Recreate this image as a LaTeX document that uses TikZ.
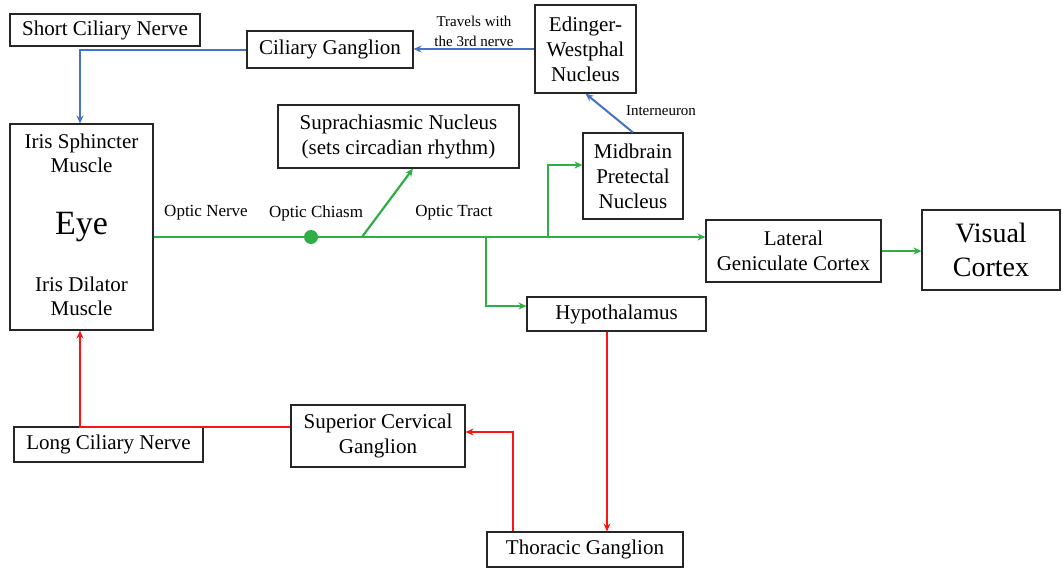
\documentclass[tikz,border=0pt]{standalone}
\usepackage{fontspec}
\setmainfont{Liberation Serif}
\usetikzlibrary{arrows.meta}
\definecolor{nblue}{RGB}{68,114,196}
\definecolor{ngreen}{RGB}{45,175,70}
\definecolor{nred}{RGB}{250,20,20}
\begin{document}
\begin{tikzpicture}[x=1pt,y=-1pt,
  box/.style={draw=black!85, line width=1.1pt, fill=white, inner sep=0pt, align=center, font=\fontsize{21}{25}\selectfont},
  txt/.style={inner sep=0pt, align=center, font=\fontsize{21}{24}\selectfont},
  olbl/.style={inner sep=0pt, font=\fontsize{17}{20}\selectfont},
  slbl/.style={inner sep=0pt, align=center, font=\fontsize{15}{20}\selectfont},
  arr/.style={-{Stealth[length=8pt,width=7pt]}},
  bl/.style={draw=nblue, line width=2pt},
  gr/.style={draw=ngreen, line width=2.2pt},
  rd/.style={draw=nred, line width=2pt}]
\fill[white] (0,0) rectangle (1063,570);
\useasboundingbox (0,0) rectangle (1063,570);
% boxes
\node[box, minimum width=190, minimum height=32] (scn) at (105,30) {Short Ciliary Nerve};
\node[box, minimum width=166, minimum height=37] (cg) at (330,49.5) {Ciliary Ganglion};
\node[box, minimum width=101, minimum height=88] (ew) at (585.5,49) {Edinger-\\Westphal\\Nucleus};
\node[box, minimum width=100, minimum height=86] (mpn) at (633,176) {Midbrain\\Pretectal\\Nucleus};
\node[box, minimum width=241, minimum height=63] (scnuc) at (398.5,136.5) {Suprachiasmic Nucleus\\(sets circadian rhythm)};
\node[box, minimum width=143, minimum height=206] (eye) at (81.5,227) {};
\node[txt] (eyes) at (81.5,153) {Iris Sphincter\\Muscle};
\node[txt, font=\fontsize{34}{38}\selectfont] (eyel) at (81.5,227) {Eye};
\node[txt] (eyed) at (81.5,296) {Iris Dilator\\Muscle};
\node[box, minimum width=175, minimum height=62] (lgc) at (793.5,251) {Lateral\\Geniculate Cortex};
\node[box, minimum width=138, minimum height=80, font=\fontsize{28}{34}\selectfont] (vc) at (991,250) {Visual\\Cortex};
\node[box, minimum width=179, minimum height=34] (hyp) at (616.5,314) {Hypothalamus};
\node[box, minimum width=196, minimum height=35] (tg) at (585,549.5) {Thoracic Ganglion};
\node[box, minimum width=174, minimum height=62] (scg) at (378,436) {Superior Cervical\\Ganglion};
\node[box, minimum width=189, minimum height=35] (lcn) at (108.5,444.5) {Long Ciliary Nerve};
% labels
\node[olbl] (onl) at (206,213) {Optic Nerve};
\node[olbl] (ocl) at (316,213) {Optic Chiasm};
\node[olbl] (otl) at (454,213) {Optic Tract};
\node[slbl] (tw) at (474,31) {Travels with\\the 3rd nerve};
\node[slbl] (inl) at (661,111) {Interneuron};
% green optic pathway
\node[circle, fill=ngreen, minimum size=14pt, inner sep=0pt] (dot) at (311,237) {};
\coordinate (b1) at (362,237);
\coordinate (b2) at (486,237);
\coordinate (b3) at (548,237);
\draw[gr] (eye.east |- dot) -- (dot);
\draw[gr,arr] (dot) -- (lgc.west |- dot);
\draw[gr,arr] (b1) -- ([xshift=14.5pt]scnuc.south);
\draw[gr,arr] (b3) |- ([yshift=11pt]mpn.west);
\draw[gr,arr] (b2) |- ([yshift=8pt]hyp.west);
\draw[gr,arr] (lgc.east) -- (vc.west |- lgc.east);
% blue parasympathetic
\draw[bl,arr] (ew.west) -- (cg.east |- ew.west);
\draw[bl,arr] (cg.west) -| ([xshift=-1.5pt]eye.north);
\draw[bl,arr] (mpn.north) -- (ew.south);
% red sympathetic
\draw[rd,arr] ([xshift=-9.5pt]hyp.south) -- ([xshift=-9.5pt]hyp.south |- tg.north);
\draw[rd,arr] ([xshift=-72pt]tg.north) |- ([yshift=4pt]scg.east);
\draw[rd,arr] ([yshift=9pt]scg.west) -| ([xshift=-1.5pt]eye.south);
\end{tikzpicture}
\end{document}
